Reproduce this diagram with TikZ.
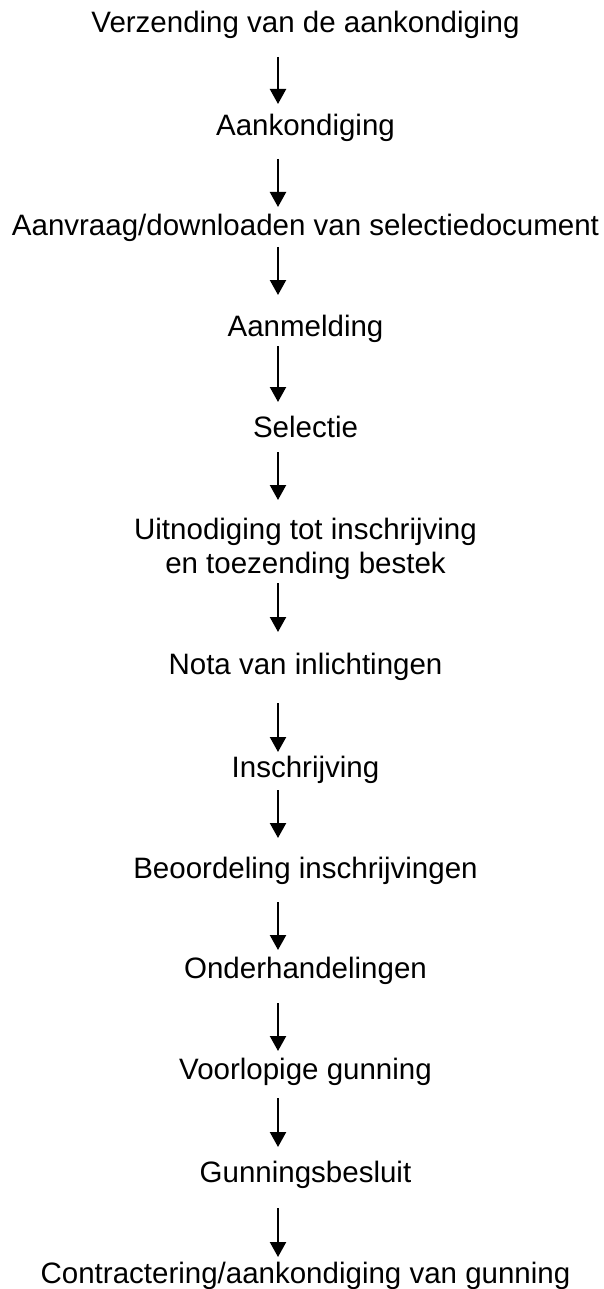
\documentclass[tikz,border=0pt]{standalone}
\usepackage{fontspec}
\setmainfont{Liberation Sans}
\usetikzlibrary{arrows.meta}

\begin{document}
\begin{tikzpicture}[x=1pt,y=-1pt,
  lbl/.style={inner sep=0pt, anchor=base, align=center,
              font=\fontsize{29.5pt}{34pt}\selectfont},
  flow/.style={line width=2.2pt, -{Triangle[width=16pt,length=15pt]}}]
  \useasboundingbox (0,0) rectangle (603,1289);

  % process steps, centred on one column (base = baseline of the last line)
  \node[lbl] (t1)  at (305.5,33)   {Verzending van de aankondiging};
  \node[lbl] (t2)  at (305.5,136)  {Aankondiging};
  \node[lbl] (t3)  at (305.5,236)  {Aanvraag/downloaden van selectiedocument};
  \node[lbl] (t4)  at (305.5,336)  {Aanmelding};
  \node[lbl] (t5)  at (305.5,437)  {Selectie};
  \node[lbl] (t6)  at (305.5,573)  {Uitnodiging tot inschrijving\\en toezending bestek};
  \node[lbl] (t7)  at (305.5,674)  {Nota van inlichtingen};
  \node[lbl] (t8)  at (305.5,777)  {Inschrijving};
  \node[lbl] (t9)  at (305.5,878)  {Beoordeling inschrijvingen};
  \node[lbl] (t10) at (305.5,978)  {Onderhandelingen};
  \node[lbl] (t11) at (305.5,1079) {Voorlopige gunning};
  \node[lbl] (t12) at (305.5,1182) {Gunningsbesluit};
  \node[lbl] (t13) at (305.5,1283) {Contractering/aankondiging van gunning};

  % arrow ends between consecutive steps
  \foreach \i/\a/\b in {1/57/104, 2/159/207, 3/247/295, 4/346/402,
                        5/452/500, 6/583/632, 7/703/752, 8/790/838,
                        9/902/950, 10/1003/1051, 11/1098/1147, 12/1208/1257}{
    \coordinate (s\i) at (278,\a);
    \coordinate (e\i) at (278,\b);
    \draw[flow] (s\i) -- (e\i);
  }
\end{tikzpicture}
\end{document}
